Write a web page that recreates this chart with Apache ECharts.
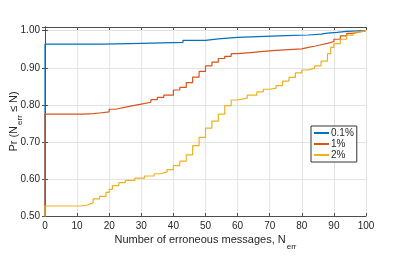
<!DOCTYPE html>
<html>
<head>
<meta charset="utf-8">
<script src="https://cdn.jsdelivr.net/npm/echarts@6/dist/echarts.min.js"></script>
<style>html,body{margin:0;padding:0;background:#fff}#c{width:397px;height:259px}</style>
</head>
<body>
<div id="c"></div>
<script>
// Tick values
const xTicks = [0, 10, 20, 30, 40, 50, 60, 70, 80, 90, 100];
const yTicks = [0.5, 0.6, 0.7, 0.8, 0.9, 1.0];
const seriesNames = ['0.1%', '1%', '2%'];

// 0.1% error rate
const blueN = [0, 0, 18, 30, 43, 50, 54, 60, 75, 82, 86, 88, 91, 94, 100];
const blueP = [0, 0.964, 0.966, 0.9685, 0.974, 0.9777, 0.982, 0.9866, 0.9884, 0.9906, 0.9933, 0.9954, 0.998, 1.0, 1.0];

// 1% error rate
const orangeN = [0, 0, 12, 15, 17, 20, 22, 24, 27, 30, 33, 35, 37, 40, 42, 44, 46, 48, 50, 52, 54, 56, 58, 60, 64, 68, 72, 76, 80, 82, 84, 86, 88, 90, 92, 94, 96, 98, 100];
const orangeP = [0, 0.775, 0.776, 0.778, 0.781, 0.788, 0.792, 0.797, 0.802, 0.807, 0.814, 0.820, 0.826, 0.840, 0.847, 0.860, 0.875, 0.890, 0.905, 0.915, 0.925, 0.931, 0.938, 0.941, 0.944, 0.947, 0.949, 0.951, 0.955, 0.958, 0.962, 0.966, 0.971, 0.977, 0.986, 0.993, 0.997, 1.0, 1.0];

// 2% error rate
const yellowN = [0, 0, 11, 13, 14, 15, 17, 19, 20, 21, 23, 25, 28, 31, 34, 36, 38, 40, 42, 44, 46, 48, 50, 52, 54, 56, 58, 60, 63, 66, 68, 70, 72, 74, 76, 78, 80, 82, 84, 86, 88, 89, 90, 92, 94, 96, 98, 100];
const yellowP = [0, 0.527, 0.529, 0.532, 0.536, 0.546, 0.553, 0.564, 0.572, 0.582, 0.590, 0.596, 0.602, 0.608, 0.614, 0.619, 0.625, 0.636, 0.648, 0.665, 0.690, 0.712, 0.737, 0.756, 0.775, 0.798, 0.813, 0.818, 0.826, 0.835, 0.842, 0.845, 0.852, 0.864, 0.874, 0.886, 0.894, 0.899, 0.905, 0.918, 0.938, 0.955, 0.965, 0.977, 0.988, 0.996, 1.0, 1.0];

const zip = (a, b) => a.map((v, i) => [v, b[i]]);
const colors = ['#0072BD', '#D95319', '#EDB120'];
const FONT = '"Liberation Sans", Arial, sans-serif';
const axisColor = '#4d4d4d';

const chart = echarts.init(document.getElementById('c'), null, {renderer: 'canvas'});

const baseX = {
  type: 'value', min: xTicks[0], max: xTicks[xTicks.length - 1], interval: 10,
  axisLine: {show: true, lineStyle: {color: axisColor, width: 1}},
  axisTick: {show: true, inside: true, length: 3, lineStyle: {color: axisColor}},
  splitLine: {show: false}
};
const baseY = {
  type: 'value', min: yTicks[0], max: 1.01, interval: 0.1,
  axisLine: {show: true, lineStyle: {color: axisColor, width: 1}},
  axisTick: {show: true, inside: true, length: 3, lineStyle: {color: axisColor}},
  splitLine: {show: false}
};

chart.setOption({
  animation: false,
  color: colors,
  grid: {left: 45, right: 31, top: 27, bottom: 43, containLabel: false, outerBoundsMode: 'none'},
  xAxis: [
    Object.assign({}, baseX, {
      position: 'bottom',
      splitLine: {show: true, lineStyle: {color: '#e3e3e3', width: 1}},
      axisLabel: {show: true, color: '#262626', fontSize: 10, fontFamily: FONT, margin: 5},
      name: '{n|Number of erroneous messages, N}{s|err}',
      nameLocation: 'middle', nameGap: 18, nameMoveOverlap: false,
      nameTextStyle: {
        verticalAlign: 'top',
        rich: {
          n: {fontSize: 11, fontFamily: FONT, color: '#262626', lineHeight: 13, verticalAlign: 'top'},
          s: {fontSize: 8, fontFamily: FONT, color: '#262626', lineHeight: 13, padding: [9, 0, 0, 1], verticalAlign: 'top'}
        }
      }
    }),
    Object.assign({}, baseX, {position: 'top', axisLabel: {show: false}})
  ],
  yAxis: [
    Object.assign({}, baseY, {
      position: 'left',
      splitLine: {show: true, lineStyle: {color: '#e3e3e3', width: 1}},
      axisLabel: {
        show: true, color: '#262626', fontSize: 10, fontFamily: FONT, margin: 5,
        formatter: v => (yTicks.some(t => Math.abs(t - v) < 1e-6) ? v.toFixed(2) : '')
      },
      name: '{n|Pr (N}{s|err}{n| ≤ N)}',
      nameLocation: 'middle', nameGap: 24, nameRotate: 90, nameMoveOverlap: false,
      nameTextStyle: {
        rich: {
          n: {fontSize: 11, fontFamily: FONT, color: '#262626', lineHeight: 13, verticalAlign: 'top'},
          s: {fontSize: 8, fontFamily: FONT, color: '#262626', lineHeight: 13, padding: [8, 0, 0, 1], verticalAlign: 'top'}
        }
      }
    }),
    Object.assign({}, baseY, {position: 'right', axisLabel: {show: false}})
  ],
  legend: {
    show: true, orient: 'vertical', left: 311, top: 126,
    data: seriesNames,
    backgroundColor: '#ffffff', borderColor: '#333', borderWidth: 1, borderRadius: 0,
    padding: [2, 3, 2, 3], itemGap: 1, itemWidth: 15, itemHeight: 2,
    icon: 'rect',
    textStyle: {fontSize: 10, fontFamily: FONT, color: '#262626', padding: [0, 0, 0, -3]}
  },
  series: [
    {name: seriesNames[0], type: 'line', step: 'end', showSymbol: false, clip: true,
     lineStyle: {width: 1.2, color: colors[0]}, data: zip(blueN, blueP)},
    {name: seriesNames[1], type: 'line', step: 'end', showSymbol: false, clip: true,
     lineStyle: {width: 1.2, color: colors[1]}, data: zip(orangeN, orangeP)},
    {name: seriesNames[2], type: 'line', step: 'end', showSymbol: false, clip: true,
     lineStyle: {width: 1.2, color: colors[2]}, data: zip(yellowN, yellowP)}
  ]
});
</script>
</body>
</html>
